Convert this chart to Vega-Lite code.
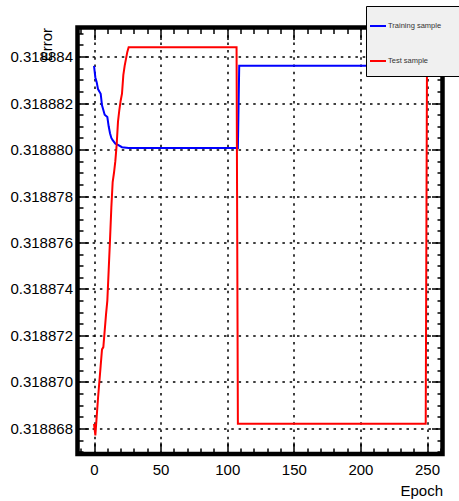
{
  "$schema": "https://vega.github.io/schema/vega-lite/v6.json",
  "width": 365,
  "height": 426.5,
  "autosize": "none",
  "padding": {"left": 77.5, "top": 27.5, "right": 16.5, "bottom": 47},
  "background": "white",
  "config": {
    "view": {"stroke": "black", "strokeWidth": 4.5},
    "axis": {
      "domain": false,
      "labelFont": "Liberation Sans",
      "labelFontSize": 15,
      "labelColor": "black",
      "titleFont": "Liberation Sans",
      "titleFontSize": 15,
      "titleFontWeight": "normal",
      "titleColor": "black",
      "tickColor": "black",
      "tickWidth": 1.5,
      "gridColor": "black",
      "gridWidth": 1.5,
      "gridDash": [2.5, 4.8],
      "labelFlush": false,
      "labelOverlap": false,
      "labelBound": false
    }
  },
  "datasets": {
    "curves": [
      {"epoch": 0, "error": 0.3188836, "sample": "Training sample"},
      {"epoch": 1, "error": 0.3188831, "sample": "Training sample"},
      {"epoch": 2, "error": 0.3188829, "sample": "Training sample"},
      {"epoch": 3, "error": 0.3188826, "sample": "Training sample"},
      {"epoch": 4, "error": 0.3188825, "sample": "Training sample"},
      {"epoch": 5, "error": 0.3188824, "sample": "Training sample"},
      {"epoch": 6, "error": 0.3188819, "sample": "Training sample"},
      {"epoch": 7, "error": 0.3188817, "sample": "Training sample"},
      {"epoch": 8, "error": 0.3188815, "sample": "Training sample"},
      {"epoch": 10, "error": 0.3188814, "sample": "Training sample"},
      {"epoch": 11, "error": 0.318881, "sample": "Training sample"},
      {"epoch": 12, "error": 0.3188807, "sample": "Training sample"},
      {"epoch": 13, "error": 0.3188805, "sample": "Training sample"},
      {"epoch": 14, "error": 0.3188804, "sample": "Training sample"},
      {"epoch": 16, "error": 0.31888025, "sample": "Training sample"},
      {"epoch": 18, "error": 0.3188802, "sample": "Training sample"},
      {"epoch": 21, "error": 0.3188801, "sample": "Training sample"},
      {"epoch": 26, "error": 0.31888007, "sample": "Training sample"},
      {"epoch": 108, "error": 0.31888007, "sample": "Training sample"},
      {"epoch": 109, "error": 0.3188836, "sample": "Training sample"},
      {"epoch": 250, "error": 0.3188836, "sample": "Training sample"},
      {"epoch": 0, "error": 0.3188682, "sample": "Test sample"},
      {"epoch": 1, "error": 0.3188677, "sample": "Test sample"},
      {"epoch": 3, "error": 0.3188693, "sample": "Test sample"},
      {"epoch": 5, "error": 0.3188707, "sample": "Test sample"},
      {"epoch": 6, "error": 0.3188714, "sample": "Test sample"},
      {"epoch": 7, "error": 0.3188715, "sample": "Test sample"},
      {"epoch": 9, "error": 0.3188729, "sample": "Test sample"},
      {"epoch": 10, "error": 0.3188735, "sample": "Test sample"},
      {"epoch": 11, "error": 0.3188748, "sample": "Test sample"},
      {"epoch": 12, "error": 0.3188761, "sample": "Test sample"},
      {"epoch": 13, "error": 0.3188775, "sample": "Test sample"},
      {"epoch": 14, "error": 0.3188786, "sample": "Test sample"},
      {"epoch": 15, "error": 0.318879, "sample": "Test sample"},
      {"epoch": 16, "error": 0.3188795, "sample": "Test sample"},
      {"epoch": 17, "error": 0.3188802, "sample": "Test sample"},
      {"epoch": 18, "error": 0.3188812, "sample": "Test sample"},
      {"epoch": 19, "error": 0.3188817, "sample": "Test sample"},
      {"epoch": 20, "error": 0.3188821, "sample": "Test sample"},
      {"epoch": 21, "error": 0.3188824, "sample": "Test sample"},
      {"epoch": 22, "error": 0.3188832, "sample": "Test sample"},
      {"epoch": 23, "error": 0.3188836, "sample": "Test sample"},
      {"epoch": 24, "error": 0.3188839, "sample": "Test sample"},
      {"epoch": 25, "error": 0.3188842, "sample": "Test sample"},
      {"epoch": 26, "error": 0.3188844, "sample": "Test sample"},
      {"epoch": 107, "error": 0.3188844, "sample": "Test sample"},
      {"epoch": 108, "error": 0.3188682, "sample": "Test sample"},
      {"epoch": 249, "error": 0.3188682, "sample": "Test sample"},
      {"epoch": 250, "error": 0.3188844, "sample": "Test sample"}
    ]
  },
  "data": {"name": "curves"},
  "layer": [
    {
      "mark": {"type": "line", "strokeWidth": 2, "interpolate": "linear"},
      "encoding": {
        "x": {
          "field": "epoch", "type": "quantitative",
          "scale": {"domain": [-12.4, 261.6], "nice": false, "zero": false},
          "axis": {
            "orient": "bottom",
            "title": "Epoch",
            "titleAnchor": "end",
            "titleAlign": "right",
            "titleBaseline": "alphabetic",
            "titleX": 365,
            "titleY": 41,
            "values": [-10, 0, 10, 20, 30, 40, 50, 60, 70, 80, 90, 100, 110, 120, 130, 140, 150, 160, 170, 180, 190, 200, 210, 220, 230, 240, 250, 260],
            "labelExpr": "datum.value % 50 === 0 ? datum.label : ''",
            "tickSize": {"condition": {"test": "datum.value % 50 === 0", "value": -12}, "value": -6},
            "gridOpacity": {"condition": {"test": "datum.value % 50 === 0", "value": 1}, "value": 0},
            "labelPadding": 20,
            "grid": true
          }
        },
        "y": {
          "field": "error", "type": "quantitative",
          "scale": {"domain": [0.3188669, 0.31888525], "nice": false, "zero": false},
          "axis": {
            "orient": "left",
            "title": "Error",
            "titleAngle": -90,
            "titleAlign": "right",
            "titleBaseline": "middle",
            "titleX": -31.5,
            "titleY": 0,
            "format": ".6f",
            "values": [0.318867, 0.3188675, 0.318868, 0.3188685, 0.318869, 0.3188695, 0.31887, 0.3188705, 0.318871, 0.3188715, 0.318872, 0.3188725, 0.318873, 0.3188735, 0.318874, 0.3188745, 0.318875, 0.3188755, 0.318876, 0.3188765, 0.318877, 0.3188775, 0.318878, 0.3188785, 0.318879, 0.3188795, 0.31888, 0.3188805, 0.318881, 0.3188815, 0.318882, 0.3188825, 0.318883, 0.3188835, 0.318884, 0.3188845, 0.318885],
            "labelExpr": "round(datum.value * 1e7) % 20 === 0 ? datum.label : ''",
            "tickSize": {"condition": {"test": "round(datum.value * 1e7) % 20 === 0", "value": -11}, "value": -5.5},
            "gridOpacity": {"condition": {"test": "round(datum.value * 1e7) % 20 === 0", "value": 1}, "value": 0},
            "labelPadding": 16,
            "grid": true
          }
        },
        "color": {
          "field": "sample", "type": "nominal",
          "scale": {"domain": ["Training sample", "Test sample"], "range": ["#0000ff", "#ff0000"]},
          "legend": {
            "orient": "none",
            "legendX": 288.5,
            "legendY": -21.5,
            "direction": "vertical",
            "title": null,
            "fillColor": "#f0f0f0",
            "strokeColor": "#000000",
            "padding": 11,
            "symbolType": "stroke",
            "symbolSize": 256,
            "symbolStrokeWidth": 2,
            "symbolOffset": -8,
            "labelOffset": 1,
            "rowPadding": 22,
            "labelFont": "Liberation Sans",
            "labelFontSize": 7.5,
            "labelColor": "#333333",
            "labelLimit": 300,
            "labelExpr": "datum.label + '\u2800\u2800\u2800'"
          }
        },
        "detail": {"field": "sample"}
      }
    },
    {
      "mark": {"type": "line", "opacity": 0},
      "encoding": {
        "x": {
          "field": "epoch", "type": "quantitative",
          "scale": {"domain": [-12.4, 261.6], "nice": false, "zero": false},
          "axis": {
            "orient": "top",
            "title": null,
            "labels": false,
            "grid": false,
            "values": [-10, 0, 10, 20, 30, 40, 50, 60, 70, 80, 90, 100, 110, 120, 130, 140, 150, 160, 170, 180, 190, 200, 210, 220, 230, 240, 250, 260],
            "tickSize": {"condition": {"test": "datum.value % 50 === 0", "value": -12}, "value": -6}
          }
        },
        "y": {
          "field": "error", "type": "quantitative",
          "scale": {"domain": [0.3188669, 0.31888525], "nice": false, "zero": false},
          "axis": {
            "orient": "right",
            "title": null,
            "labels": false,
            "grid": false,
            "values": [0.318867, 0.3188675, 0.318868, 0.3188685, 0.318869, 0.3188695, 0.31887, 0.3188705, 0.318871, 0.3188715, 0.318872, 0.3188725, 0.318873, 0.3188735, 0.318874, 0.3188745, 0.318875, 0.3188755, 0.318876, 0.3188765, 0.318877, 0.3188775, 0.318878, 0.3188785, 0.318879, 0.3188795, 0.31888, 0.3188805, 0.318881, 0.3188815, 0.318882, 0.3188825, 0.318883, 0.3188835, 0.318884, 0.3188845, 0.318885],
            "tickSize": {"condition": {"test": "round(datum.value * 1e7) % 20 === 0", "value": -11}, "value": -5.5}
          }
        },
        "detail": {"field": "sample"}
      }
    }
  ],
  "resolve": {"axis": {"x": "independent", "y": "independent"}}
}
